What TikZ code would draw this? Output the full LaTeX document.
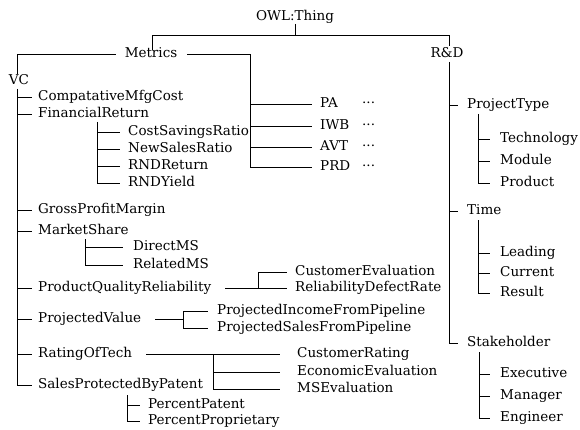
\documentclass[tikz,border=0pt]{standalone}
\usepackage{fontspec}
\setmainfont{DejaVu Serif}
\begin{document}
\begin{tikzpicture}[x=1pt,y=-1pt,
  lbl/.style={anchor=west,inner sep=0pt,text height=0.72em,text depth=0pt,font=\fontsize{13.5}{16}\selectfont},
  ctr/.style={lbl,anchor=center},
  link/.style={line width=0.6pt,black},
  tk/.style={link,shorten >=#1},
  tk/.default=7pt]
\useasboundingbox (0,0) rectangle (580,430);
% top level
\node[ctr] (owl) at (295,17) {OWL:Thing};
\node[ctr] (met) at (151,54) {Metrics};
\node[ctr] (rd) at (447,54) {R\&D};
\node[ctr] (vc) at (19,81) {VC};
% VC children
\node[lbl] (cmc) at (38,97) {CompatativeMfgCost};
\node[lbl] (fr) at (38,114) {FinancialReturn};
\node[lbl] (gpm) at (38,210) {GrossProfitMargin};
\node[lbl] (ms) at (38,231) {MarketShare};
\node[lbl] (pqr) at (38,288) {ProductQualityReliability};
\node[lbl] (pv) at (38,319) {ProjectedValue};
\node[lbl] (rot) at (38,354) {RatingOfTech};
\node[lbl] (spbp) at (38,385) {SalesProtectedByPatent};
% FinancialReturn children
\node[lbl] (csr) at (128,132) {CostSavingsRatio};
\node[lbl] (nsr) at (128,149) {NewSalesRatio};
\node[lbl] (rndr) at (128,166) {RNDReturn};
\node[lbl] (rndy) at (128,183) {RNDYield};
% MarketShare children
\node[lbl] (dms) at (133,247) {DirectMS};
\node[lbl] (rms) at (133,265) {RelatedMS};
% PQR children
\node[lbl] (ce) at (295,272) {CustomerEvaluation};
\node[lbl] (rdr) at (295,288) {ReliabilityDefectRate};
% PV children
\node[lbl] (pifp) at (217,311) {ProjectedIncomeFromPipeline};
\node[lbl] (psfp) at (217,328) {ProjectedSalesFromPipeline};
% RoT children
\node[lbl] (cr) at (297,354) {CustomerRating};
\node[lbl] (ee) at (297,372) {EconomicEvaluation};
\node[lbl] (mse) at (297,389) {MSEvaluation};
% SPBP children
\node[lbl] (pp) at (148,405) {PercentPatent};
\node[lbl] (ppr) at (148,421) {PercentProprietary};
% Metrics children
\node[lbl] (pa) at (320,104) {PA};
\node[lbl] (iwb) at (320,126) {IWB};
\node[lbl] (avt) at (320,147) {AVT};
\node[lbl] (prd) at (320,167) {PRD};
\node[lbl] (pad) at (362,104) {···};
\node[lbl] (iwbd) at (362,126) {···};
\node[lbl] (avtd) at (362,147) {···};
\node[lbl] (prdd) at (362,167) {···};
% R&D children
\node[lbl] (pt) at (467,105) {ProjectType};
\node[lbl] (time) at (467,211) {Time};
\node[lbl] (sh) at (467,343) {Stakeholder};
\node[lbl] (tech) at (500,139) {Technology};
\node[lbl] (mod) at (500,161) {Module};
\node[lbl] (prod) at (500,183) {Product};
\node[lbl] (lead) at (500,253) {Leading};
\node[lbl] (cur) at (500,273) {Current};
\node[lbl] (res) at (500,293) {Result};
\node[lbl] (exe) at (500,374) {Executive};
\node[lbl] (man) at (500,396) {Manager};
\node[lbl] (eng) at (500,418) {Engineer};
% ---- connectors ----
\coordinate (topL) at (152,35);
\coordinate (topR) at (449,35);
\draw[link,shorten <=3pt] (owl.south) -- (owl.south |- topL);
\draw[link,shorten >=4pt] (topL |- met.north) -- (topL) -- (topR) -- (topR |- rd.north);
\coordinate (vcx) at (17,54);
\draw[link,shorten <=9pt,shorten >=3pt] (met.west) -- (vcx) -- (vcx |- vc.north);
\coordinate (mx) at (250,54);
\draw[link,shorten <=10pt] (met.east) -- (mx) -- (mx |- prd.west);
\foreach \n in {pa,iwb,avt,prd} \draw[tk=8pt] (mx |- \n.west) -- (\n.west);
% VC bus
\coordinate (vcb) at (17,89);
\draw[tk=6pt] (vcb) |- (spbp.west);
\foreach \n in {cmc,fr,gpm,ms,pqr,pv,rot} \draw[tk=6pt] (vcb |- \n.west) -- (\n.west);
% FinancialReturn bus
\coordinate (frb) at (97,122);
\draw[tk=8pt] (frb) |- (rndy.west);
\foreach \n in {csr,nsr,rndr} \draw[tk=8pt] (frb |- \n.west) -- (\n.west);
% MarketShare bus
\coordinate (msb) at (85,239);
\draw[tk=10pt] (msb) |- (rms.west);
\draw[tk=10pt] (msb |- dms.west) -- (dms.west);
% PQR
\coordinate (pqrj) at (258,288);
\draw[link,shorten <=14pt,shorten >=8pt] (pqr.east) -- (rdr.west);
\draw[tk=8pt] (pqrj) |- (ce.west);
% PV
\coordinate (pvj) at (183,319);
\draw[link,shorten <=14pt] (pv.east) -- (pvj);
\draw[tk=9pt] (pvj) |- (pifp.west);
\draw[tk=9pt] (pvj) |- (psfp.west);
% RoT
\coordinate (rotj) at (213,354);
\draw[link,shorten <=14pt,shorten >=17pt] (rot.east) -- (cr.west);
\draw[tk=17pt] (rotj) |- (ee.west);
\draw[tk=17pt] (rotj) |- (mse.west);
% SPBP
\coordinate (spb) at (127,395);
\draw[tk=8pt] (spb) |- (ppr.west);
\draw[tk=8pt] (spb |- pp.west) -- (pp.west);
% R&D bus
\coordinate (rdb) at (449,62);
\draw[tk=9pt] (rdb) |- (sh.west);
\foreach \n in {pt,time} \draw[tk=9pt] (rdb |- \n.west) -- (\n.west);
% ProjectType bus
\coordinate (ptb) at (478,114);
\draw[tk=10pt] (ptb) |- (prod.west);
\foreach \n in {tech,mod} \draw[tk=10pt] (ptb |- \n.west) -- (\n.west);
% Time bus
\coordinate (tmb) at (478,220);
\draw[tk=10pt] (tmb) |- (res.west);
\foreach \n in {lead,cur} \draw[tk=10pt] (tmb |- \n.west) -- (\n.west);
% Stakeholder bus
\coordinate (shb) at (479,352);
\draw[tk=10pt] (shb) |- (eng.west);
\foreach \n in {exe,man} \draw[tk=10pt] (shb |- \n.west) -- (\n.west);
\end{tikzpicture}
\end{document}
